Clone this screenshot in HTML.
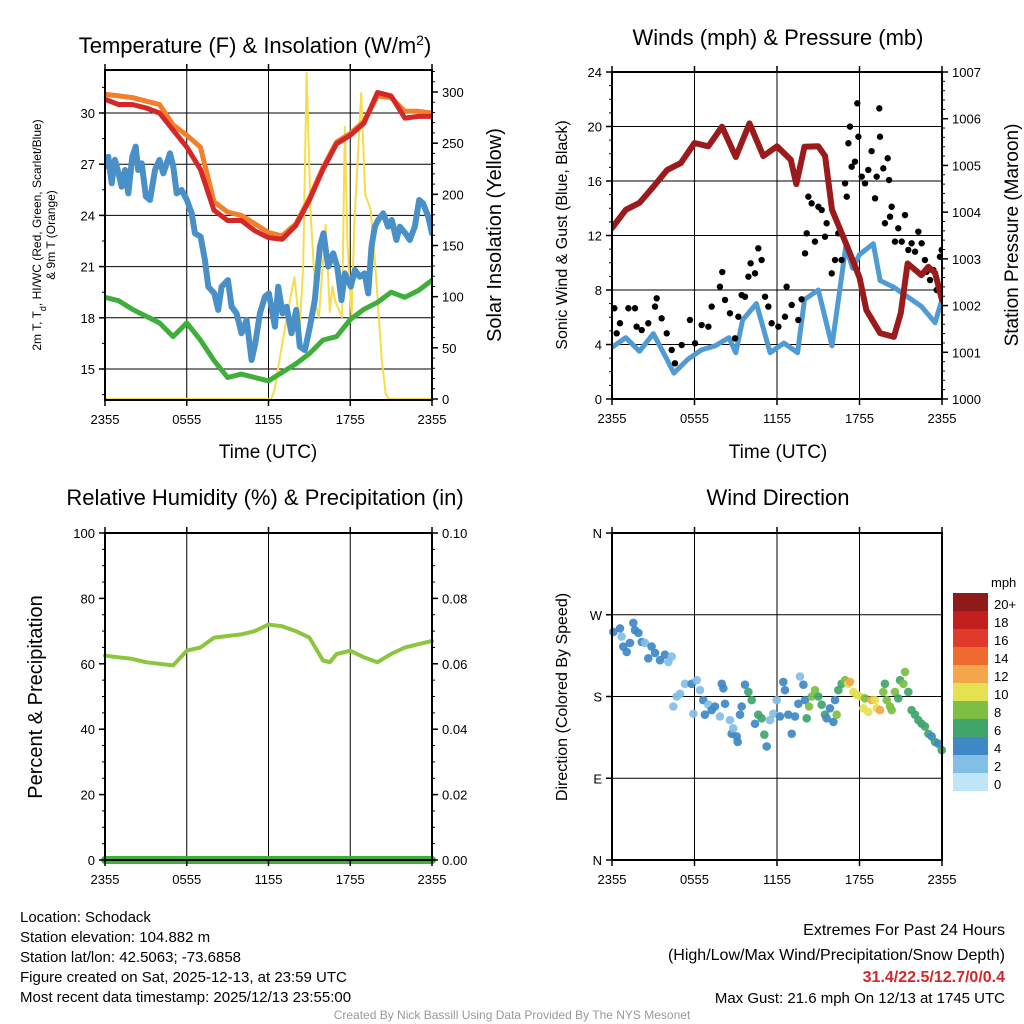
<!DOCTYPE html>
<html><head><meta charset="utf-8"><style>
body{margin:0;background:#fff;}
svg{display:block;font-family:"Liberation Sans",Arial,sans-serif;}
</style></head><body>
<svg id="c" width="1024" height="1024" viewBox="0 0 1024 1024" xmlns="http://www.w3.org/2000/svg"></svg>
<script>
// ---------- DATA ----------
const timeTicks=["2355","0555","1155","1755","2355"];
const tHours=[0,1,2,3,4,5,6,7,8,9,10,11,12,13,14,15,16,17,18,19,20,21,22,23,24];
const tempRed=[30.8,30.5,30.5,30.3,30.0,29.0,28.0,26.7,24.3,23.7,23.7,23.1,22.7,22.6,23.4,24.9,26.7,28.2,28.7,29.4,31.2,31.0,29.7,29.8,29.8];
const tempOrange=[31.1,31.0,30.9,30.7,30.5,29.3,28.7,28.0,24.8,24.2,24.0,23.5,23.0,22.8,23.5,25.0,26.8,28.3,28.8,29.5,31.0,30.9,30.1,30.1,30.0];
const blueHours=[0,0.24,0.49,0.73,1.0,1.22,1.47,1.71,2.0,2.25,2.44,2.69,3.0,3.3,3.67,4.0,4.28,4.77,5.01,5.26,5.62,6.01,6.36,6.6,7.02,7.33,7.58,8.02,8.31,8.56,9.02,9.29,9.66,10.02,10.39,10.76,11.03,11.37,11.74,12.03,12.47,12.71,13.03,13.33,13.69,14.03,14.3,14.67,15.04,15.4,15.77,16.04,16.38,16.75,17.04,17.36,17.6,18.04,18.34,18.7,19.05,19.32,19.56,19.8,20.05,20.42,20.78,21.05,21.39,21.64,22.05,22.37,22.74,23.06,23.35,23.72,24];
const tempBlue=[26.86,27.44,25.88,27.25,26.46,25.68,26.66,25.29,27.44,28.03,26.66,27.05,25.1,24.9,26.66,27.25,26.46,27.64,26.86,25.29,25.49,24.9,24.12,22.95,22.75,21.39,19.82,19.43,18.46,19.82,20.21,18.65,18.26,17.09,17.87,15.53,16.5,18.26,19.24,19.43,17.48,19.82,18.26,18.65,17.09,18.46,16.31,16.11,17.48,19.04,22.17,22.95,21.0,21.78,21.0,19.04,20.6,19.82,20.8,20.4,20.6,19.43,22.17,23.34,23.73,24.12,23.34,23.73,22.56,23.34,22.95,22.56,23.34,24.9,24.7,23.93,22.95];
const tempGreen=[19.2,19.0,18.5,18.1,17.7,16.9,17.7,16.7,15.5,14.5,14.7,14.5,14.3,14.8,15.3,15.9,16.7,16.9,17.9,18.5,18.9,19.5,19.2,19.6,20.2];
const solHours=[0,12.2,12.45,12.8,13.4,13.9,14.3,14.55,14.8,15.1,15.5,15.7,16.2,16.5,16.7,16.9,17.4,17.6,17.8,18.1,18.3,18.8,19.1,19.5,19.9,20.3,20.6,20.85,21.1,24];
const solar=[0,0,9,38,84,119,70,130,319,180,90,80,170,85,110,95,80,266,150,80,170,299,200,185,120,40,5,0,0,0];

const windHours=[0,1,2,3,4,4.5,5.5,6.5,7.5,8.5,9,9.5,10.5,11.5,12.5,13.5,14,15,16,17,17.5,18,19,19.5,20.5,21.5,22.5,23.5,24];
const windSpeed=[3.8,4.5,3.5,4.8,2.9,1.9,2.9,3.6,3.9,4.5,3.4,5.8,7.0,3.4,4.1,3.4,7.3,8.0,3.9,11.2,9.6,10.6,11.4,8.7,8.2,7.5,6.8,5.6,7.3];
const presHours=[0,1,2,3,4,5,6,7,8,9,10,11,12,13,13.4,14,15,15.5,16,17,18,18.5,19.5,20.5,21,21.5,22.5,23,23.5,24];
const pressure=[1003.66,1004.05,1004.2,1004.54,1004.9,1005.05,1005.48,1005.41,1005.83,1005.18,1005.9,1005.2,1005.41,1005.12,1004.6,1005.4,1005.41,1005.2,1004.05,1003.34,1002.6,1001.9,1001.41,1001.33,1001.84,1002.9,1002.65,1002.83,1002.7,1002.12];
const gustHours=[0.17,0.34,0.58,1.19,1.67,1.79,2.16,2.64,3.13,3.25,3.61,3.98,4.34,4.58,5.07,5.67,6.04,6.52,7.01,7.25,7.85,8.02,8.22,8.58,8.95,9.19,9.43,9.67,9.92,10.08,10.4,10.64,10.88,11.13,11.37,11.61,12.1,12.58,12.7,13.07,13.55,13.79,14.04,14.16,14.28,14.52,14.76,15.01,15.25,15.49,15.61,15.98,16.22,16.46,16.7,16.95,17.07,17.19,17.31,17.43,17.67,17.84,17.92,18.16,18.4,18.64,18.88,19.13,19.25,19.44,19.49,19.73,19.85,20.05,20.15,20.22,20.34,20.58,20.82,21.07,21.31,21.55,21.79,22.04,22.28,22.52,22.76,22.88,23.13,23.37,23.61,23.85,23.98];
const gusts=[6.66,4.82,5.56,6.66,6.66,5.31,5.06,5.56,6.78,7.39,5.92,4.82,3.6,2.62,3.96,5.8,4.09,5.43,5.31,6.78,8.24,9.32,7.27,6.29,4.45,6.04,7.63,7.51,8.98,9.96,9.22,11.06,10.2,7.51,6.78,5.56,5.31,6.04,8.24,6.9,5.8,7.32,10.69,12.16,14.85,14.36,11.55,14.11,13.87,11.91,12.9,9.22,10.2,12.16,10.2,15.83,14.85,18.77,19.99,17.05,17.42,21.7,19.25,16.32,15.83,16.81,18.19,14.73,16.32,21.33,19.25,16.93,12.9,17.67,16.07,13.38,14.11,11.55,12.53,11.55,13.5,10.94,11.43,10.81,12.28,11.43,10.2,9.34,8.73,9.47,8.0,10.44,10.94];

const rhHours=[0,1,2,3,4,5,6,7,8,9,10,11,12,13,14,15,16,16.5,17,18,19,20,21,22,23,24];
const rh=[62.5,62,61.5,60.5,60,59.5,64,65,68,68.5,69,70,72,71.5,70,68,61,60.5,63,64,62,60.5,63,65,66,67];
const precipHours=[0,24];
const precip=[0,0];

const dirHours=[0.10,0.58,0.70,0.82,1.07,1.31,1.55,1.67,1.92,2.16,2.40,2.64,2.88,3.13,3.49,3.85,4.10,4.34,4.46,4.70,4.95,5.31,5.79,5.92,6.16,6.40,6.64,6.76,7.01,7.25,7.49,7.85,7.98,8.10,8.22,8.58,8.70,8.82,9.07,9.14,9.31,9.43,9.67,9.92,10.16,10.4,10.64,10.88,11.08,11.25,11.49,11.73,11.98,12.22,12.46,12.58,12.82,13.07,13.31,13.55,13.67,13.92,14.04,14.16,14.33,14.52,14.76,15.01,15.25,15.49,15.61,15.85,16.10,16.22,16.34,16.46,16.70,16.95,17.19,17.31,17.55,17.79,18.04,18.28,18.40,18.64,18.88,19.13,19.25,19.49,19.73,19.85,19.98,20.22,20.34,20.58,20.82,20.95,21.19,21.31,21.55,21.79,22.04,22.28,22.52,22.76,23.01,23.25,23.49,23.73,23.98];
const dirDeg=[251,255,246,235,229,239,261,253,250,240,239,222,235,228,220,226,218,224,169,180,183,194,194,161,198,187,176,160,171,165,169,158,194,189,172,154,139,145,136,130,160,169,193,185,176,150,160,156,138,125,154,161,176,158,196,187,160,139,158,172,202,193,176,156,169,180,187,180,171,160,156,167,152,176,160,187,194,198,194,196,185,182,180,167,178,163,176,176,167,165,185,194,176,169,165,185,178,198,194,207,185,165,160,154,150,147,139,136,130,128,121];
const dirSpeed=[4,4,3,4,4,4,4,4,4,4,3,4,4,4,4,4,3,3,2,2,2,2,4,2,2,2,4,4,2,4,4,2,4,4,4,2,4,2,4,4,4,4,4,6,6,4,6,6,6,4,2,2,2,4,4,4,4,4,4,4,2,4,4,6,8,8,8,6,6,6,4,4,4,4,8,6,6,8,10,12,10,10,10,10,8,10,12,10,10,12,8,6,8,8,8,8,6,6,8,8,6,6,6,6,6,6,6,4,6,4,6];

const cbLabels=["20+","18","16","14","12","10","8","6","4","2","0"];
const cbColors=["#8e1a1a","#c1201f","#df3a2c","#ee6a2e","#f6a64a","#e6e150","#7cbf43","#3fa56b","#3f88c6","#82bfe6","#bfe6f6"];

// ---------- HELPERS ----------
const NS="http://www.w3.org/2000/svg";
const svg=document.getElementById('c');
function mk(tag,attrs,parent){const e=document.createElementNS(NS,tag);for(const k in attrs)e.setAttribute(k,attrs[k]);(parent||svg).appendChild(e);return e;}
function txt(s,x,y,size,anchor,parent,extra){const e=mk('text',Object.assign({x:x,y:y,'font-size':size,'text-anchor':anchor||'middle',fill:'#000'},extra||{}),parent);e.textContent=s;return e;}
function scale(d0,d1,r0,r1){return v=>r0+(v-d0)*(r1-r0)/(d1-d0);}

function panel(name,x0,x1,y0,y1){
  const g=mk('g',{});
  
  
  return {g,x0,x1,y0,y1,xs:scale(0,24,x0,x1)};
}
function grid(p,yVals,ys){
  const gg=mk('g',{stroke:'#000','stroke-width':1},p.g);
  
  
  for(let h=6;h<24;h+=6){mk('line',{x1:p.xs(h),x2:p.xs(h),y1:p.y0,y2:p.y1},gg);}
  yVals.forEach(v=>{const y=ys(v);mk('line',{x1:p.x0,x2:p.x1,y1:y,y2:y},gg);});
}
function frame(p){
  const r=mk('rect',{x:p.x0,y:p.y0,width:p.x1-p.x0,height:p.y1-p.y0,fill:'none',stroke:'#000','stroke-width':2},p.g);
  
  
  const xt=mk('g',{},p.g);
  
  
  timeTicks.forEach((t,i)=>{const x=p.xs(i*6);mk('line',{x1:x,x2:x,y1:p.y1,y2:p.y1+6,stroke:'#000','stroke-width':1.5},xt);
    mk('line',{x1:x,x2:x,y1:p.y0,y2:p.y0-6,stroke:'#000','stroke-width':1.5},xt);
    txt(t,x,p.y1+24,13,'middle',xt);});
}
function yTicks(p,vals,ys,labels,side,name){
  const g=mk('g',{},p.g);
  
  
  vals.forEach((v,i)=>{const y=ys(v);
    if(side==='left'){mk('line',{x1:p.x0-6,x2:p.x0,y1:y,y2:y,stroke:'#000','stroke-width':1.5},g);txt(labels[i],p.x0-10,y+5,13,'end',g);}
    else{mk('line',{x1:p.x1,x2:p.x1+6,y1:y,y2:y,stroke:'#000','stroke-width':1.5},g);txt(labels[i],p.x1+10,y+5,13,'start',g);}
  });
}
function minorTicks(p,from,to,step,ys,side){
  for(let v=from;v<=to+1e-9;v+=step){const y=ys(v);
    if(side==='left')mk('line',{x1:p.x0-3,x2:p.x0,y1:y,y2:y,stroke:'#000','stroke-width':1},p.g);
    else mk('line',{x1:p.x1,x2:p.x1+3,y1:y,y2:y,stroke:'#000','stroke-width':1},p.g);}
}
function line(p,hs,vs,ys,color,w,name){
  const pts=hs.map((h,i)=>p.xs(h).toFixed(1)+','+ys(vs[i]).toFixed(1)).join(' ');
  const e=mk('polyline',{points:pts,fill:'none',stroke:color,'stroke-width':w,'stroke-linejoin':'round','stroke-linecap':'round'},p.g);
  
  
  return e;
}
function clip(p,id){const d=mk('clipPath',{id:id});mk('rect',{x:p.x0,y:p.y0,width:p.x1-p.x0,height:p.y1-p.y0},d);}

// ---------- PANEL 1 ----------
const p1=panel('temperature-panel',105,432,70,400);
const tY=scale(30,15,113,369);
const sY=scale(0,300,399,92);
grid(p1,[15,18,21,24,27,30],tY);
clip(p1,'c1');
const l1=mk('g',{'clip-path':'url(#c1)'},p1.g);


const pp1=Object.assign({},p1,{g:l1});
line(pp1,solHours,solar,sY,'#f7dd4a',2,'solar-insolation-line');
line(pp1,tHours,tempOrange,tY,'#f0802a',5,'9m-temp-line');
line(pp1,tHours,tempRed,tY,'#d62728',5,'2m-temp-line');
line(pp1,blueHours,tempBlue,tY,'#4a90c8',6,'heat-index-windchill-line');
line(pp1,tHours,tempGreen,tY,'#3fae3a',5,'dewpoint-line');
frame(p1);
yTicks(p1,[15,18,21,24,27,30],tY,['15','18','21','24','27','30'],'left','temp-y-ticks');
minorTicks(p1,13.5,31.5,1.5,tY,'left');
yTicks(p1,[0,50,100,150,200,250,300],sY,['0','50','100','150','200','250','300'],'right','insolation-y-ticks');
minorTicks(p1,0,320,10,sY,'right');
let t=txt('Temperature (F) & Insolation (W/m',255,53,22,'middle',p1.g);

const sup=mk('tspan',{'baseline-shift':'super','font-size':14},t);sup.textContent='2';
const cl=mk('tspan',{},t);cl.textContent=')';
t=txt('Time (UTC)',268,458,19,'middle',p1.g);
t=mk('text',{x:0,y:0,'font-size':12,'text-anchor':'middle',transform:'translate(41,235) rotate(-90)'},p1.g);

t.appendChild(document.createTextNode('2m T, T'));
const sb=mk('tspan',{'baseline-shift':'sub','font-size':9},t);sb.textContent='d';
const rest=mk('tspan',{},t);rest.textContent=', HI/WC (Red, Green, Scarlet/Blue)';
t=mk('text',{x:0,y:0,'font-size':12,'text-anchor':'middle',transform:'translate(55,235) rotate(-90)'},p1.g);
t.textContent='& 9m T (Orange)';
t=mk('text',{x:0,y:0,'font-size':20,'text-anchor':'middle',transform:'translate(501,235) rotate(-90)'},p1.g);
t.textContent='Solar Insolation (Yellow)';

// ---------- PANEL 2 ----------
const p2=panel('wind-pressure-panel',612,942,72,399);
const wY=scale(0,24,399,72);
const pY=scale(1000,1007,399,72);
grid(p2,[4,8,12,16,20],wY);
clip(p2,'c2');
const l2=mk('g',{'clip-path':'url(#c2)'},p2.g);


const pp2=Object.assign({},p2,{g:l2});
line(pp2,windHours,windSpeed,wY,'#519bd4',5,'sonic-wind-line');
const gd=mk('g',{fill:'#000'},l2);


gustHours.forEach((h,i)=>{const c=mk('circle',{cx:p2.xs(h),cy:wY(gusts[i]),r:3.2},gd);

});
line(pp2,presHours,pressure,pY,'#9b1a1c',6,'pressure-line');
frame(p2);
yTicks(p2,[0,4,8,12,16,20,24],wY,['0','4','8','12','16','20','24'],'left','wind-y-ticks');
minorTicks(p2,0,24,1,wY,'left');
yTicks(p2,[1000,1001,1002,1003,1004,1005,1006,1007],pY,['1000','1001','1002','1003','1004','1005','1006','1007'],'right','pressure-y-ticks');
minorTicks(p2,1000,1007,0.2,pY,'right');
t=txt('Winds (mph) & Pressure (mb)',778,45,22,'middle',p2.g);
t=txt('Time (UTC)',778,458,19,'middle',p2.g);
t=mk('text',{x:0,y:0,'font-size':16,'text-anchor':'middle',transform:'translate(567,235) rotate(-90)'},p2.g);
t.textContent='Sonic Wind & Gust (Blue, Black)';
t=mk('text',{x:0,y:0,'font-size':19,'text-anchor':'middle',transform:'translate(1018,235) rotate(-90)'},p2.g);
t.textContent='Station Pressure (Maroon)';

// ---------- PANEL 3 ----------
const p3=panel('humidity-panel',105,432,533,860);
const rY=scale(0,100,860,533);
const prY=scale(0,0.1,860,533);
grid(p3,[],rY);
line(p3,rhHours,rh,rY,'#8cc63f',4,'relative-humidity-line');
line(p3,precipHours,precip,prY,'#3fae3a',8,'precipitation-line');
frame(p3);
yTicks(p3,[0,20,40,60,80,100],rY,['0','20','40','60','80','100'],'left','rh-y-ticks');
minorTicks(p3,0,100,5,rY,'left');
yTicks(p3,[0,0.02,0.04,0.06,0.08,0.1],prY,['0.00','0.02','0.04','0.06','0.08','0.10'],'right','precip-y-ticks');
minorTicks(p3,0,0.1,0.005,prY,'right');
t=txt('Relative Humidity (%) & Precipitation (in)',265,505,22,'middle',p3.g);
t=mk('text',{x:0,y:0,'font-size':20,'text-anchor':'middle',transform:'translate(42,697) rotate(-90)'},p3.g);
t.textContent='Percent & Precipitation';

// ---------- PANEL 4 ----------
const p4=panel('wind-direction-panel',612,942,533,860);
const dY=scale(0,360,860,533);
grid(p4,[90,180,270],dY);
const dd=mk('g',{'fill-opacity':0.92},p4.g);


function spColor(s){const idx=Math.min(10,Math.floor(s/2));return cbColors[10-idx];}
dirHours.forEach((h,i)=>{const c=mk('circle',{cx:p4.xs(h),cy:dY(dirDeg[i]),r:4.3,fill:spColor(dirSpeed[i])},dd);

});
frame(p4);
yTicks(p4,[0,90,180,270,360],dY,['N','E','S','W','N'],'left','direction-y-ticks');
t=txt('Wind Direction',778,505,22,'middle',p4.g);
t=mk('text',{x:0,y:0,'font-size':16,'text-anchor':'middle',transform:'translate(567,697) rotate(-90)'},p4.g);
t.textContent='Direction (Colored By Speed)';

// colorbar
const cb=mk('g',{});


cbLabels.forEach((l,i)=>{const y=593+i*18;
  const r=mk('rect',{x:953,y:y,width:35,height:18,fill:cbColors[i]},cb);
  
  
  txt(l,994,y+16,13,'start',cb);});
t=txt('mph',991,587,13,'start',cb);

// ---------- FOOTER ----------
const ft=mk('g',{});


["Location: Schodack","Station elevation: 104.882 m","Station lat/lon: 42.5063; -73.6858","Figure created on Sat, 2025-12-13, at 23:59 UTC","Most recent data timestamp: 2025/12/13 23:55:00"].forEach((s,i)=>txt(s,20,922+i*20,15,'start',ft));
const ex=mk('g',{});


txt('Extremes For Past 24 Hours',1005,935,16,'end',ex);
txt('(High/Low/Max Wind/Precipitation/Snow Depth)',1005,960,16,'end',ex);
txt('31.4/22.5/12.7/0/0.4',1005,982,16,'end',ex,{fill:'#d62728','font-weight':'bold'});
txt('Max Gust: 21.6 mph On 12/13 at 1745 UTC',1005,1003,15,'end',ex);
t=txt('Created By Nick Bassill Using Data Provided By The NYS Mesonet',512,1019,12,'middle',null,{fill:'#999'});

</script>
</body></html>
